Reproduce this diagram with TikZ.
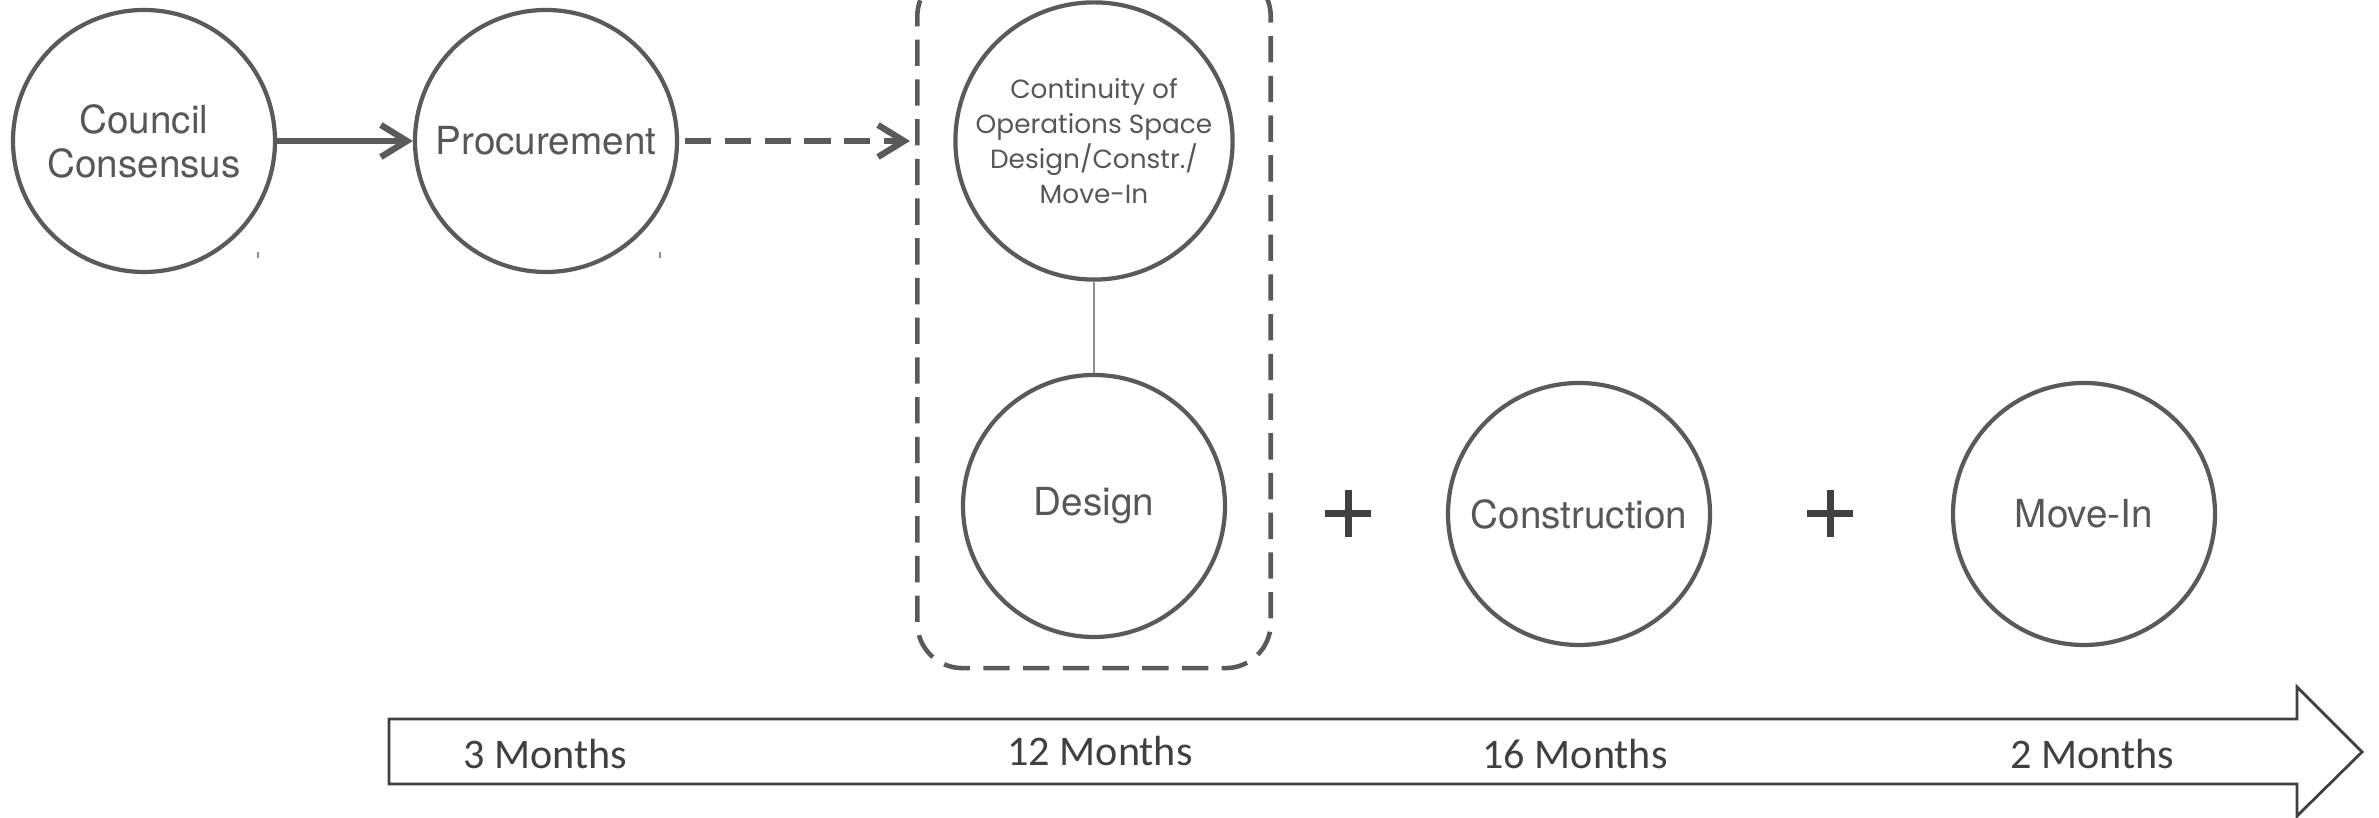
\documentclass[tikz,border=0pt]{standalone}
\usepackage{fontspec}
\setmainfont{TeX Gyre Heros}
\newfontfamily\geofont{Poppins}
\newfontfamily\calfont{Carlito}
\usepackage{xcolor}
\definecolor{ringgray}{HTML}{5A5A5A}
\definecolor{textgray}{HTML}{575757}
\definecolor{darkgray}{HTML}{404040}
\definecolor{linkgray}{HTML}{8F8F8F}
\usetikzlibrary{arrows.meta,fit}

\begin{document}
\begin{tikzpicture}[
    phase/.style={circle, draw=ringgray, fill=white, text=textgray, line width=1.2pt, minimum size=2.62cm, align=center, inner sep=1pt, font=\fontsize{11}{12.5}\selectfont},
    group/.style={draw=ringgray, line width=1.3pt, dash pattern=on 7.5pt off 3.8pt, rounded corners=0.45cm, inner xsep=0.36cm, inner ysep=0.29cm},
    flow/.style={ringgray, line width=1.8pt, -{Straight Barb[length=2.6mm,width=3.2mm]}},
    plusmark/.style={darkgray, line width=2pt},
    month/.style={text=darkgray, font=\calfont\fontsize{12}{14}\selectfont},
  ]
    \useasboundingbox (0,0) rectangle (23.79,8.18);
    \node[phase] (council) at (1.44,6.77) {Council\\Consensus};
    \node[phase] (proc) at (5.46,6.77) {Procurement};
    \node[phase, font=\geofont\fontsize{7.5}{10}\selectfont] (cont) at (10.94,6.77) {Continuity of\\Operations Space\\Design/Constr./\\Move-In};
    \node[phase] (design) at (10.94,3.12) {Design};
    \node[phase] (constr) at (15.79,3.04) {Construction};
    \node[phase] (movein) at (20.84,3.04) {Move-In};
    \node[group, fit=(cont)(design)] (box) {};
    \draw[flow] (council) -- (proc);
    \draw[flow, dash pattern=on 7.5pt off 3.8pt, shorten <=0.06cm, shorten >=0.05cm] (proc) -- (proc -| box.west);
    \draw[linkgray, line width=0.6pt] (cont) -- (design);
    \draw[plusmark] (13.25,3.04) -- (13.71,3.04) (13.48,2.81) -- (13.48,3.28);
    \draw[plusmark] (18.07,3.04) -- (18.53,3.04) (18.30,2.81) -- (18.30,3.28);
    \draw[linkgray, line width=0.4pt] (2.58,5.60) -- (2.58,5.66) (6.60,5.60) -- (6.60,5.66);
    \draw[darkgray, line width=0.8pt, fill=white] (3.89,0.34) -- (22.97,0.34) -- (22.97,0.02) -- (23.62,0.66) -- (22.97,1.31) -- (22.97,0.99) -- (3.89,0.99) -- cycle;
    \node[month] (m3) at (5.45,0.64) {3 Months};
    \node[month] (m12) at (11.00,0.67) {12 Months};
    \node[month] (m16) at (15.75,0.64) {16 Months};
    \node[month] (m2) at (20.92,0.64) {2 Months};
  \end{tikzpicture}
\end{document}
